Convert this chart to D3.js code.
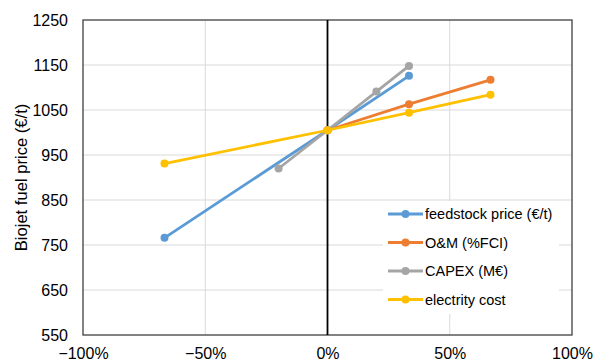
<!DOCTYPE html>
<html><head><meta charset="utf-8">
<script src="https://cdn.jsdelivr.net/npm/d3@7"></script>
<style>body{margin:0;background:#fff}svg{display:block;font-family:"Liberation Sans",Arial,sans-serif}</style>
</head><body>
<svg id="c" width="593" height="361"></svg>
<script>
const seriesNames = ["feedstock price (€/t)", "O&M (%FCI)", "CAPEX (M€)", "electrity cost"];
const seriesColors = ["#5B9BD5", "#ED7D31", "#A5A5A5", "#FFC000"];
const feedstockX = [-2/3, 0, 1/3];
const feedstockY = [766, 1005, 1126];
const omX = [0, 1/3, 2/3];
const omY = [1005, 1063, 1117];
const capexX = [-0.2, 0, 0.2, 1/3];
const capexY = [920, 1005, 1091, 1148];
const elecX = [-2/3, 0, 1/3, 2/3];
const elecY = [931, 1005, 1044, 1084];
const xTicks = [-1, -0.5, 0, 0.5, 1];
const yTicks = [550, 650, 750, 850, 950, 1050, 1150, 1250];
const yTitle = "Biojet fuel price (€/t)";

const series = [
  {name: seriesNames[0], color: seriesColors[0], pts: feedstockX.map((x,i)=>[x, feedstockY[i]])},
  {name: seriesNames[1], color: seriesColors[1], pts: omX.map((x,i)=>[x, omY[i]])},
  {name: seriesNames[2], color: seriesColors[2], pts: capexX.map((x,i)=>[x, capexY[i]])},
  {name: seriesNames[3], color: seriesColors[3], pts: elecX.map((x,i)=>[x, elecY[i]])}
];

const L = 83, R = 572, T = 20, B = 335;
const svg = d3.select("#c");
const x = d3.scaleLinear().domain([-1, 1]).range([L, R]);
const y = d3.scaleLinear().domain([550, 1250]).range([B, T]);

// gridlines
svg.append("g").selectAll("line.h").data(yTicks.slice(1, -1)).join("line")
  .attr("x1", L).attr("x2", R).attr("y1", d=>y(d)).attr("y2", d=>y(d))
  .attr("stroke", "#d9d9d9").attr("stroke-width", 1);
svg.append("g").selectAll("line.v").data([-0.5, 0.5]).join("line")
  .attr("y1", T).attr("y2", B).attr("x1", d=>x(d)).attr("x2", d=>x(d))
  .attr("stroke", "#d9d9d9").attr("stroke-width", 1);

// border
svg.append("rect").attr("x", L).attr("y", T).attr("width", R-L).attr("height", B-T)
  .attr("fill", "none").attr("stroke", "#404040").attr("stroke-width", 1.3);

// zero vertical axis
svg.append("line").attr("x1", x(0)).attr("x2", x(0)).attr("y1", T).attr("y2", B)
  .attr("stroke", "#000").attr("stroke-width", 1.8);

// axes labels
const yAxis = d3.axisLeft(y).tickValues(yTicks).tickSize(0).tickPadding(15).tickFormat(d3.format("d"));
const gy = svg.append("g").attr("transform", `translate(${L},0)`).call(yAxis);
gy.select(".domain").remove();
gy.selectAll("text").attr("font-size", 16).attr("fill", "#000").attr("font-family", "Liberation Sans, Arial, sans-serif");

const xAxis = d3.axisBottom(x).tickValues(xTicks).tickSize(0).tickPadding(12.5).tickFormat(d3.format(".0%"));
const gx = svg.append("g").attr("transform", `translate(0,${B})`).call(xAxis);
gx.select(".domain").remove();
gx.selectAll("text").attr("font-size", 16).attr("fill", "#000").attr("font-family", "Liberation Sans, Arial, sans-serif");

svg.append("text").attr("transform", `translate(26.5,${(T+B)/2}) rotate(-90)`)
  .attr("text-anchor", "middle").attr("font-size", 16.6).attr("fill", "#000").text(yTitle);

// series
const line = d3.line().x(d=>x(d[0])).y(d=>y(d[1]));
series.forEach(s => {
  const g = svg.append("g");
  g.append("path").attr("d", line(s.pts)).attr("fill", "none").attr("stroke", s.color).attr("stroke-width", 2.8);
  g.selectAll("circle").data(s.pts).join("circle").attr("cx", d=>x(d[0])).attr("cy", d=>y(d[1])).attr("r", 4).attr("fill", s.color);
});

// legend
const lg = svg.append("g");
lg.append("rect").attr("x", 383).attr("y", 201).attr("width", 176).attr("height", 113).attr("fill", "#fff");
series.forEach((s, i) => {
  const yy = 214 + i * 28.5;
  lg.append("line").attr("x1", 388).attr("x2", 423).attr("y1", yy).attr("y2", yy).attr("stroke", s.color).attr("stroke-width", 2.8);
  lg.append("circle").attr("cx", 405.5).attr("cy", yy).attr("r", 4).attr("fill", s.color);
  lg.append("text").attr("x", 425).attr("y", yy + 5).attr("font-size", 14.5).attr("fill", "#000").text(s.name);
});
</script>
</body></html>
